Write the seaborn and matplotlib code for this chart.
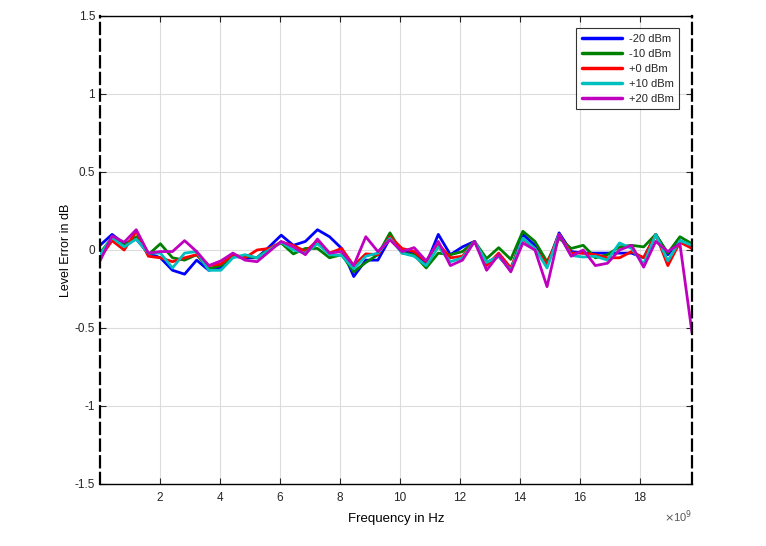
import numpy as np
import pandas as pd
import matplotlib
matplotlib.use("Agg")
import matplotlib.pyplot as plt
import seaborn as sns

# Frequency points (Hz), 50 steps across the band
freq = np.linspace(0.01e9, 19.75e9, 50)

# Level error (dB) per input level
err_m20 = [0.03, 0.10, 0.04, 0.07, -0.02, -0.05, -0.13, -0.155, -0.065, -0.13,
           -0.11, -0.04, -0.05, -0.05, 0.02, 0.095, 0.03, 0.055, 0.13, 0.085,
           0.01, -0.17, -0.065, -0.065, 0.075, -0.01, -0.02, -0.09, 0.10, -0.03,
           0.02, 0.055, -0.08, -0.04, -0.13, 0.10, 0.03, -0.10, 0.11, -0.01,
           -0.02, -0.02, -0.02, -0.02, -0.02, -0.05, 0.10, -0.03, 0.06, 0.02]
err_m10 = [-0.02, 0.08, 0.03, 0.085, -0.03, 0.04, -0.05, -0.065, -0.03, -0.12,
           -0.10, -0.04, -0.04, -0.05, 0.01, 0.045, -0.025, 0.01, 0.01, -0.05,
           -0.03, -0.14, -0.08, -0.03, 0.11, -0.02, -0.03, -0.115, -0.02, -0.03,
           -0.01, 0.055, -0.055, 0.015, -0.06, 0.12, 0.055, -0.075, 0.075, 0.01,
           0.03, -0.05, -0.03, 0.02, 0.03, 0.02, 0.10, -0.02, 0.085, 0.04]
err_p0 = [-0.05, 0.06, 0.0, 0.12, -0.04, -0.05, -0.075, -0.05, -0.03, -0.10,
          -0.09, -0.03, -0.05, 0.0, 0.01, 0.05, 0.03, -0.01, 0.06, -0.02,
          0.01, -0.10, -0.025, -0.03, 0.085, 0.01, -0.01, -0.075, 0.04, -0.05,
          -0.04, 0.055, -0.10, -0.02, -0.115, 0.07, 0.01, -0.09, 0.10, -0.02,
          -0.02, -0.03, -0.05, -0.05, -0.01, -0.05, 0.10, -0.10, 0.05, 0.01]
err_p10 = [-0.03, 0.08, 0.02, 0.07, -0.02, -0.02, -0.115, -0.02, -0.01, -0.13,
           -0.13, -0.05, -0.03, -0.05, 0.0, 0.05, 0.0, -0.02, 0.04, -0.03,
           -0.035, -0.12, -0.04, -0.02, 0.075, -0.02, -0.04, -0.10, 0.02, -0.075,
           -0.05, 0.055, -0.08, -0.04, -0.13, 0.075, 0.01, -0.115, 0.10, -0.035,
           -0.045, -0.04, -0.065, 0.045, 0.01, -0.09, 0.10, -0.07, 0.06, 0.03]
err_p20 = [-0.07, 0.09, 0.05, 0.13, -0.02, -0.01, -0.01, 0.06, -0.01, -0.10,
           -0.07, -0.02, -0.065, -0.075, -0.01, 0.055, 0.02, -0.03, 0.07, -0.02,
           -0.01, -0.10, 0.085, -0.01, 0.065, -0.01, 0.015, -0.07, 0.055, -0.10,
           -0.065, 0.055, -0.13, -0.03, -0.14, 0.045, 0.0, -0.235, 0.10, -0.04,
           0.0, -0.10, -0.085, 0.0, 0.03, -0.11, 0.055, -0.01, 0.04, -0.53]

levels = ['-20 dBm', '-10 dBm', '+0 dBm', '+10 dBm', '+20 dBm']
series = [err_m20, err_m10, err_p0, err_p10, err_p20]
colors = ['#0000ff', '#008000', '#ff0000', '#00bfbf', '#bf00bf']

df = pd.concat([pd.DataFrame({'freq': freq, 'err': s, 'level': lv})
                for lv, s in zip(levels, series)], ignore_index=True)

sns.set_style("whitegrid")
plt.rcParams['font.family'] = ['Liberation Sans', 'DejaVu Sans']

fig = plt.figure(figsize=(7.66, 5.46), dpi=100)
ax = fig.add_axes([100 / 766, 62 / 546, 592 / 766, 468 / 546])

sns.lineplot(data=df, x='freq', y='err', hue='level', hue_order=levels,
             palette=colors, linewidth=2, ax=ax, legend=True)

ax.set_xlim(0.01e9, 19.75e9)
ax.set_ylim(-1.5, 1.5)
xt = np.arange(2, 19, 2)
ax.set_xticks(xt * 1e9)
ax.set_xticklabels([str(v) for v in xt])
yt = [-1.5, -1, -0.5, 0, 0.5, 1, 1.5]
ax.set_yticks(yt)
ax.set_yticklabels(['-1.5', '-1', '-0.5', '0', '0.5', '1', '1.5'])

ax.grid(True, color='#dcdcdc', linewidth=0.8)
ax.tick_params(axis='both', direction='in', length=4, width=0.8,
               labelsize=8.5, colors='#262626', top=True, right=True,
               bottom=True, left=True)
ax.tick_params(axis='x', pad=6)
for side in ['top', 'bottom', 'left', 'right']:
    ax.spines[side].set_color('black')
    ax.spines[side].set_linewidth(1.0)
for side in ['left', 'right']:
    ax.spines[side].set_linestyle((0, (5, 2.5)))
    ax.spines[side].set_linewidth(1.6)

ax.set_xlabel('Frequency in Hz', fontsize=9.5, color='black', labelpad=6.5)
ax.set_ylabel('Level Error in dB', fontsize=9, color='black', labelpad=2)
ax.text(1.0, -0.0705, r'$\times$10$^{9}$', transform=ax.transAxes,
        ha='right', va='center', fontsize=8, color='#555555')

leg = ax.legend(loc='upper right', bbox_to_anchor=(0.978, 0.974), fontsize=8,
                frameon=True, fancybox=False, edgecolor='black',
                handlelength=3.6, borderpad=0.5, labelspacing=0.45,
                handletextpad=0.6, borderaxespad=0, title=None)
leg.get_frame().set_linewidth(0.8)
for line in leg.get_lines():
    line.set_linewidth(2.5)

fig.savefig('out.png', dpi=100, facecolor='white')
